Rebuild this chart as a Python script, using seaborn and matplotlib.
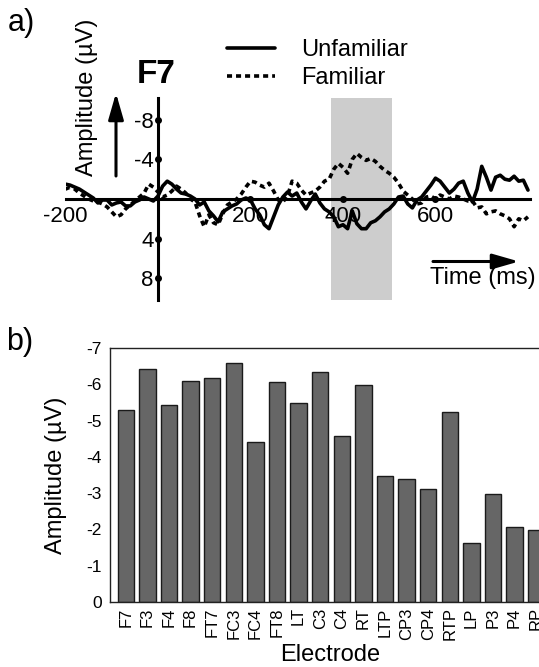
import matplotlib.pyplot as plt
import pandas as pd
import seaborn as sns

# ERP 波形 (F7), 每 10 ms 一个点
time_ms = list(range(-200, 801, 10))
unfamiliar = [
    -1.5, -1.4, -1.2, -1.0, -0.7, -0.4, -0.1, 0.4, 0.1, 0.1,
    0.6, 0.4, 0.3, 0.7, 0.7, 0.3, 0.1, -0.2, 0.0, 0.2,
    -0.3, -1.3, -1.8, -1.5, -1.0, -0.6, -0.5, -0.3, 0.0, 0.6,
    0.3, 1.2, 1.7, 2.3, 1.3, 1.0, 0.7, 0.5, 0.1, -0.1,
    0.1, 1.0, 1.6, 2.6, 3.0, 1.8, 0.6, -0.2, -0.7, -0.3,
    -0.6, 0.3, 1.0, 0.2, -0.5, 0.4, 1.0, 1.3, 1.8, 2.8,
    2.6, 3.0, 1.2, 2.5, 3.0, 3.0, 2.4, 2.2, 1.8, 1.3,
    1.0, 0.5, -0.2, -0.3, 0.5, 0.9, 0.1, -0.2, -0.8, -1.4,
    -2.1, -1.8, -1.2, -0.6, -1.0, -1.6, -1.8, -0.6, 0.3, -1.0,
    -3.3, -2.2, -0.9, -2.2, -2.4, -2.0, -1.9, -2.3, -1.8, -1.9,
    -0.9,
]
familiar = [
    -1.0, -1.2, -1.0, -0.6, -0.3, 0.0, 0.2, 0.3, 0.5, 0.8,
    1.3, 1.8, 1.6, 1.0, 0.6, 0.2, -0.2, -0.6, -1.5, -1.2,
    -0.7, -0.2, -0.4, -0.8, -1.3, -1.0, -0.6, 0.0, 0.3, 1.7,
    2.8, 1.6, 2.4, 2.6, 1.5, 0.6, 0.3, 0.0, -0.5, -1.2,
    -1.8, -1.7, -1.4, -1.2, -1.6, -0.8, 0.1, 0.3, -0.3, -1.8,
    -1.6, -0.9, -0.4, -0.6, -0.8, -1.2, -1.8, -2.0, -3.0, -3.6,
    -3.2, -2.6, -4.0, -4.6, -4.2, -3.9, -4.1, -3.8, -3.3, -2.9,
    -2.6, -2.2, -1.6, -0.8, -0.4, 0.0, 0.5, 0.4, -0.2, -0.3,
    0.0, -0.4, -0.2, 0.0, -0.3, -0.2, 0.0, 0.2, 0.2, 0.9,
    0.8, 1.5, 1.3, 1.2, 1.5, 1.7, 2.0, 2.8, 2.0, 2.2,
    1.8,
]
erp_xticks = [-200, 200, 400, 600]
erp_yticks = [-8, -4, 4, 8]
window_ms = [375, 505]

# 各电极平均波幅
electrodes = ['F7', 'F3', 'F4', 'F8', 'FT7', 'FC3', 'FC4', 'FT8', 'LT', 'C3',
              'C4', 'RT', 'LTP', 'CP3', 'CP4', 'RTP', 'LP', 'P3', 'P4', 'RP']
amplitudes = [-5.30, -6.42, -5.43, -6.10, -6.17, -6.59, -4.42, -6.06, -5.49, -6.35,
              -4.57, -5.99, -3.46, -3.38, -3.10, -5.23, -1.62, -2.98, -2.06, -1.97]
bar_yticks = [0, -1, -2, -3, -4, -5, -6, -7]

sns.set_style('white')
plt.rcParams['font.family'] = ['Liberation Sans', 'DejaVu Sans']
plt.rcParams['axes.unicode_minus'] = False
for k in ['text.color', 'axes.labelcolor', 'xtick.color', 'ytick.color']:
    plt.rcParams[k] = 'black'

W, H = 539, 667
fig = plt.figure(figsize=(W / 100, H / 100), dpi=100)


def fx(px):
    return px / W


def fy(px):
    return 1 - px / H


# ---------- a) ----------
ax1 = fig.add_axes([fx(65.5), fy(300), fx(530.3 - 65.5), (300 - 98) / H])
erp = pd.DataFrame({
    'time': time_ms * 2,
    'amp': unfamiliar + familiar,
    'cond': ['Unfamiliar'] * len(time_ms) + ['Familiar'] * len(time_ms),
})
ax1.axvspan(window_ms[0], window_ms[1], color='#cdcdcd', lw=0, zorder=0)
sns.lineplot(data=erp, x='time', y='amp', style='cond', color='black',
             dashes={'Unfamiliar': '', 'Familiar': (1.4, 1.1)},
             linewidth=2.6, ax=ax1)
ax1.set_xlim(-200, 805)
ax1.set_ylim(10.2, -10.2)
for s in ['top', 'right']:
    ax1.spines[s].set_visible(False)
for s in ['left', 'bottom']:
    ax1.spines[s].set_position(('data', 0))
    ax1.spines[s].set_linewidth(2.2)
    ax1.spines[s].set_color('black')
ax1.set_xticks(erp_xticks)
ax1.set_xticklabels([str(v) for v in erp_xticks])
ax1.set_yticks(erp_yticks)
ax1.set_yticklabels([str(v) for v in erp_yticks])
ax1.tick_params(axis='x', length=0, labelsize=16, pad=5)
ax1.tick_params(axis='y', length=0, labelsize=16, pad=3)
ax1.plot(erp_xticks[1:], [0] * 3, 'o', color='black', ms=4, zorder=5)
ax1.plot([0] * len(erp_yticks), erp_yticks, 'o', color='black', ms=4, zorder=5)
ax1.set_xlabel('')
ax1.set_ylabel('')

h, l = ax1.get_legend_handles_labels()
ax1.legend(h, l, loc='center left', bbox_to_anchor=(fx(227), fy(64)),
           bbox_transform=fig.transFigure, frameon=False, fontsize=17,
           handlelength=2.05, handletextpad=1.1, labelspacing=0.25,
           borderpad=0, borderaxespad=0)

fig.text(fx(21), fy(23), 'a)', fontsize=22, ha='center', va='center')
fig.text(fx(156), fy(74.5), 'F7', fontsize=24, fontweight='bold', ha='center', va='center')
fig.text(fx(87), fy(97.5), 'Amplitude (µV)', fontsize=17, rotation=90, ha='center', va='center')
fig.text(fx(483), fy(278), 'Time (ms)', fontsize=17, ha='center', va='center')
arrow = dict(arrowstyle='-|>,head_length=0.8,head_width=0.23', lw=2.2,
             color='black', mutation_scale=20, shrinkA=0, shrinkB=0)
ax1.annotate('', xy=(fx(116), fy(93)), xytext=(fx(116), fy(176)),
             xycoords='figure fraction', textcoords='figure fraction', arrowprops=arrow)
ax1.annotate('', xy=(fx(519), fy(261.5)), xytext=(fx(433), fy(261.5)),
             xycoords='figure fraction', textcoords='figure fraction', arrowprops=arrow)

# ---------- b) ----------
ax2 = fig.add_axes([fx(110), fy(601.7), fx(441.3), (601.7 - 348.3) / H])
bars = pd.DataFrame({'Electrode': electrodes, 'Amplitude': amplitudes})
sns.barplot(data=bars, x='Electrode', y='Amplitude', color='#666666',
            saturation=1, edgecolor='#1a1a1a', linewidth=1, width=0.755, ax=ax2)
ax2.set_xlim(-0.73, 19.7)
ax2.set_ylim(0, -7)
ax2.set_yticks(bar_yticks)
ax2.set_yticklabels([str(v) for v in bar_yticks])
ax2.tick_params(axis='y', length=0, labelsize=12.5, pad=6)
ax2.tick_params(axis='x', length=0, labelsize=12, pad=4, labelrotation=90)
for s in ax2.spines.values():
    s.set_linewidth(1)
    s.set_color('#222222')
ax2.set_xlabel('Electrode', fontsize=17, labelpad=3)
ax2.set_ylabel('Amplitude (µV)', fontsize=17, labelpad=14)

fig.text(fx(20), fy(342), 'b)', fontsize=22, ha='center', va='center')

fig.savefig('out.png', dpi=100)
